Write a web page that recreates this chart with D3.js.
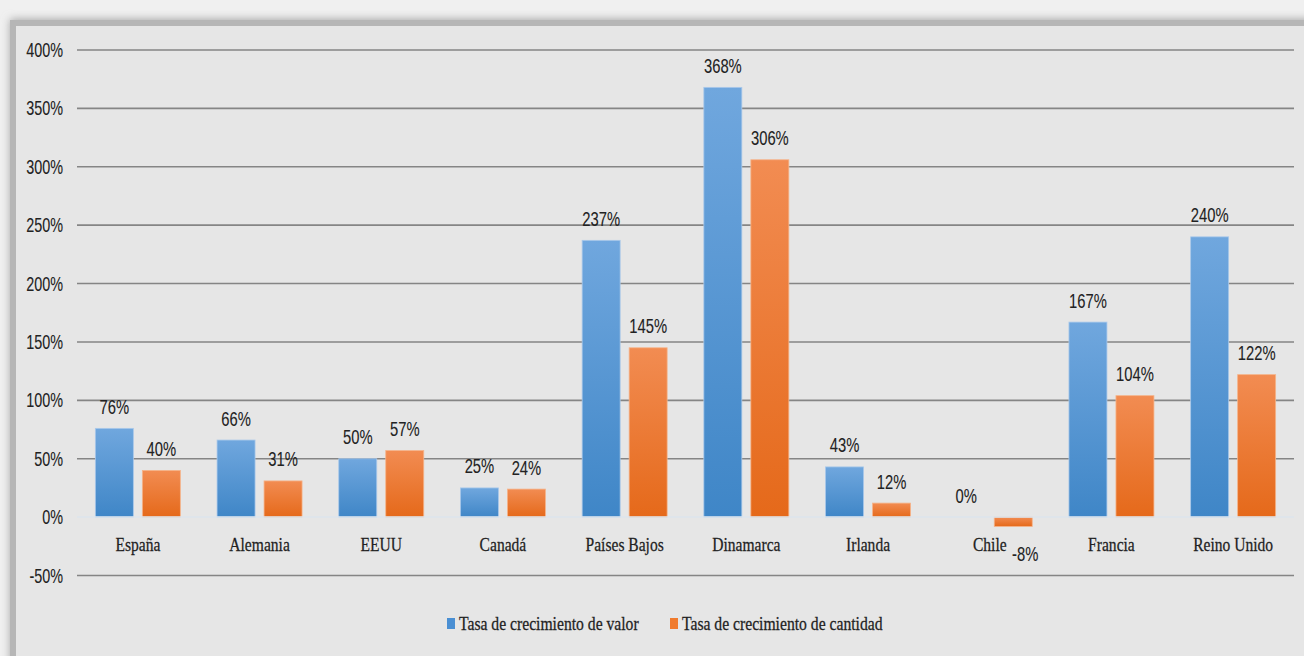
<!DOCTYPE html>
<html><head><meta charset="utf-8">
<script src="https://cdn.jsdelivr.net/npm/d3@7"></script>
<style>html,body{margin:0;padding:0;background:#efefef;}svg{display:block;}</style>
</head><body>
<svg id="c" width="1304" height="656"></svg>
<script>
const categories = ["España","Alemania","EEUU","Canadá","Países Bajos","Dinamarca","Irlanda","Chile","Francia","Reino Unido"];
const valorGrowth = [76,66,50,25,237,368,43,0,167,240];
const cantidadGrowth = [40,31,57,24,145,306,12,-8,104,122];
const seriesNames = ["Tasa de crecimiento de valor","Tasa de crecimiento de cantidad"];
const yTicks = [-50,0,50,100,150,200,250,300,350,400];

const svg = d3.select("#c");
const defs = svg.append("defs");
const blur = defs.append("filter").attr("id","sh").attr("x","-5%").attr("y","-5%").attr("width","110%").attr("height","110%");
blur.append("feGaussianBlur").attr("stdDeviation",4);
function grad(id, top, bot){
  const g = defs.append("linearGradient").attr("id",id).attr("x1",0).attr("y1",0).attr("x2",0).attr("y2",1);
  g.append("stop").attr("offset","0%").attr("stop-color",top);
  g.append("stop").attr("offset","100%").attr("stop-color",bot);
}
grad("gb","#70a7de","#3f86c7");
grad("go","#f28c52","#e5691a");

// frame
svg.append("rect").attr("x",0).attr("y",0).attr("width",1304).attr("height",656).attr("fill","#f0f0f0");
svg.append("rect").attr("x",10).attr("y",19).attr("width",1310).attr("height",660).attr("fill","#a8a8a8").attr("filter","url(#sh)");
svg.append("rect").attr("x",10).attr("y",20).attr("width",1300).attr("height",640).attr("fill","#b6b6b6");
svg.append("rect").attr("x",16).attr("y",26).attr("width",1290).attr("height",640).attr("fill","#e6e6e6");

const left = 77, right = 1294;
const x = d3.scaleBand().domain(categories).range([left,right]).paddingInner(0).paddingOuter(0);
const y = d3.scaleLinear().domain([-50,400]).range([575.5,50]);
const barW = 38, gap = 9;

// gridlines
svg.append("g").selectAll("line").data(yTicks.filter(d=>d!==0)).join("line")
  .attr("x1",left).attr("x2",right).attr("y1",d=>y(d)).attr("y2",d=>y(d))
  .attr("stroke","#858585").attr("stroke-width",1.6);

function sText(parent, tx, ty, str, opts){
  const g = parent.append("g").attr("transform",`translate(${tx},${ty}) scale(${opts.sx||1},1)`);
  return g.append("text").text(str)
    .attr("text-anchor",opts.anchor||"middle")
    .attr("font-family",opts.family||"Liberation Sans, Arial, sans-serif")
    .attr("font-size",opts.size||18)
    .attr("fill",opts.fill||"#222")
    .attr("stroke",opts.fill||"#222").attr("stroke-width",opts.sw==null?0.25:opts.sw);
}

// y tick labels
const yl = svg.append("g");
yTicks.forEach(t=>{
  sText(yl, 63, y(t)+7, t+"%", {anchor:"end", sx:0.72, size:20, sw:0.1});
});

// bars
const bars = svg.append("g");
categories.forEach((c,i)=>{
  const cx = x(c) + x.bandwidth()/2;
  const x0 = cx - (barW*2+gap)/2;
  [valorGrowth[i], cantidadGrowth[i]].forEach((v,j)=>{
    const bx = x0 + j*(barW+gap);
    const top = Math.min(y(v), y(0)), h = Math.abs(y(v)-y(0));
    if (h>0) bars.append("rect").attr("x",bx).attr("y",top).attr("width",barW).attr("height",h)
      .attr("fill", j===0?"url(#gb)":"url(#go)")
      .attr("stroke", j===0?"#a9c8ea":"#f5b48a").attr("stroke-width",0.8);
    const ly = v>=0 ? y(v)-14.5 : 561;
    sText(bars, bx+barW/2 + (v<0?12:0), ly, v+"%", {sx:0.74, size:20, sw:0.1});
  });
});

// zero line
svg.append("line").attr("x1",left).attr("x2",right).attr("y1",y(0)).attr("y2",y(0))
  .attr("stroke","#dde4ec").attr("stroke-width",1.5);

// category labels
const cl = svg.append("g");
categories.forEach(c=>{
  sText(cl, x(c)+x.bandwidth()/2, 551, c, {family:"Liberation Serif, Times New Roman, serif", sx:0.82, size:19});
});

// legend
const lg = svg.append("g");
lg.append("rect").attr("x",447).attr("y",618).attr("width",8).attr("height",11).attr("fill","#4a8fd3");
sText(lg, 459, 630, seriesNames[0], {anchor:"start", family:"Liberation Serif, Times New Roman, serif", sx:0.87, size:18});
lg.append("rect").attr("x",670).attr("y",618).attr("width",8).attr("height",11).attr("fill","#f07b2e");
sText(lg, 682, 630, seriesNames[1], {anchor:"start", family:"Liberation Serif, Times New Roman, serif", sx:0.87, size:18});
</script>
</body></html>
